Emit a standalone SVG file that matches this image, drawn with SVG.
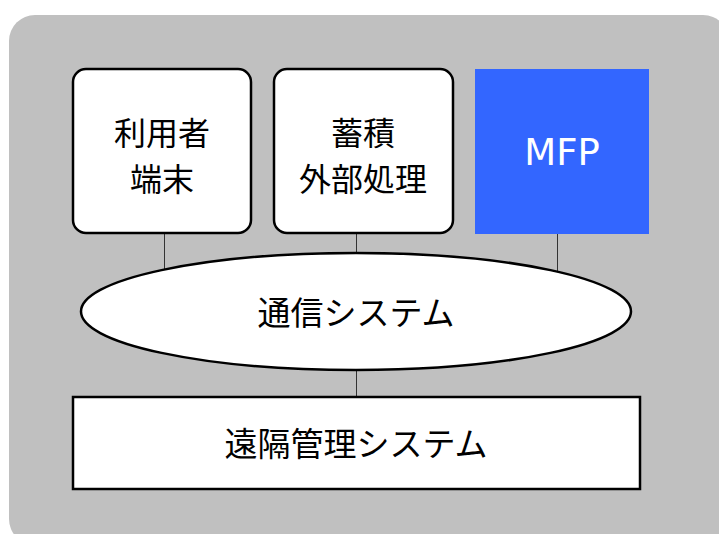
<svg xmlns="http://www.w3.org/2000/svg" width="719" height="534" viewBox="0 0 719 534">
<style>
.jp{font-family:"Noto Sans CJK JP","Noto Sans",sans-serif;font-size:33px;fill:#000;text-anchor:middle}
.two{font-size:32px}
.box{fill:#fff;stroke:#000;stroke-width:2.5}
.conn{stroke:#333;stroke-width:1;fill:none}
</style>
<rect x="9" y="15" width="720" height="530" rx="26" fill="#c0c0c0"/>
<g id="connectors">
<line class="conn" x1="164.5" y1="233" x2="164.5" y2="270"/>
<line class="conn" x1="356.5" y1="233" x2="356.5" y2="260"/>
<line class="conn" x1="557.5" y1="233" x2="557.5" y2="272"/>
<line class="conn" x1="356.5" y1="370" x2="356.5" y2="397"/>
</g>
<g id="user-terminal">
<rect class="box" x="73" y="69" width="178" height="164" rx="13"/>
<text class="jp two"><tspan x="162" y="145">利用者</tspan><tspan x="162" y="191">端末</tspan></text>
</g>
<g id="storage">
<rect class="box" x="274" y="69" width="179" height="164" rx="13"/>
<text class="jp two"><tspan x="363" y="145">蓄積</tspan><tspan x="363" y="191">外部処理</tspan></text>
</g>
<g id="mfp">
<rect x="475" y="69" width="174" height="165" fill="#3366ff"/>
<text x="562" y="165" font-family="DejaVu Sans,sans-serif" font-size="37" fill="#fff" text-anchor="middle">MFP</text>
</g>
<g id="comm">
<ellipse class="box" cx="356" cy="311.5" rx="275" ry="58.5"/>
<text class="jp" x="356" y="325">通信システム</text>
</g>
<g id="remote">
<rect class="box" x="73" y="397" width="567" height="92"/>
<text class="jp" x="356" y="456">遠隔管理システム</text>
</g>
</svg>
